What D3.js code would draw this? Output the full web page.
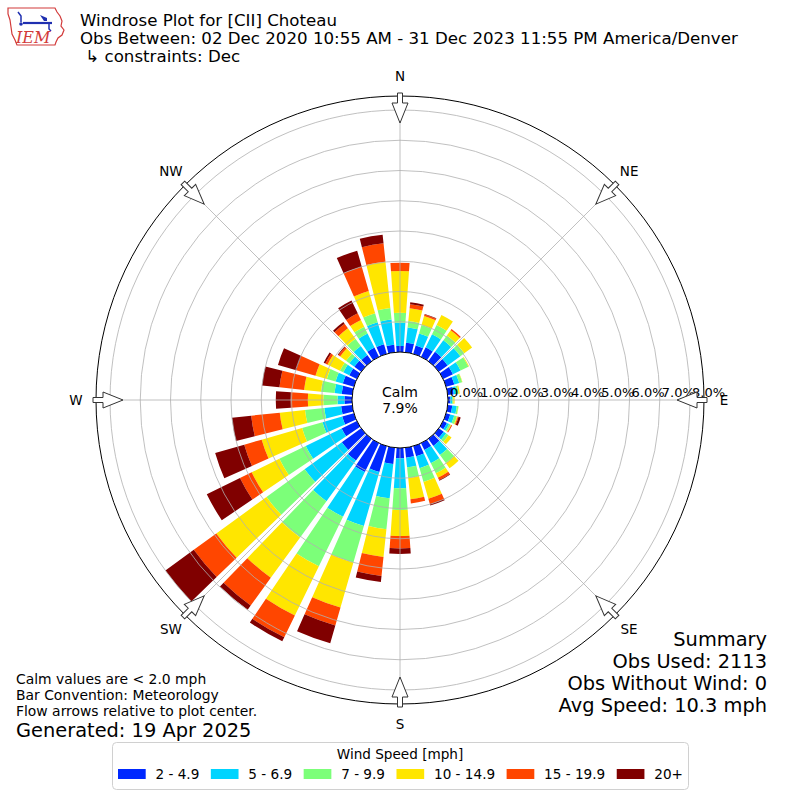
<!DOCTYPE html>
<html>
<head>
<meta charset="utf-8">
<script src="https://cdn.jsdelivr.net/npm/d3@7"></script>
<style>
  body { margin: 0; background: #fff; }
  svg { font-family: "DejaVu Sans", sans-serif; }
</style>
</head>
<body>
<script>
// wind directions (deg, meteorological, from north clockwise)
const directions = [0, 10, 20, 30, 40, 50, 60, 70, 80, 90, 100, 110, 120, 130, 140, 150, 160, 170,
                    180, 190, 200, 210, 220, 230, 240, 250, 260, 270, 280, 290, 300, 310, 320, 330, 340, 350];

const speedBins = ["2 - 4.9", "5 - 6.9", "7 - 9.9", "10 - 14.9", "15 - 19.9", "20+"];
const binColors = ["#0028ff", "#00d4ff", "#7cff79", "#ffe600", "#ff4600", "#800000"];

// percent of observations per direction, one array per speed bin
const speed2to5 = [0.20,0.32,0.29,0.35,0.38,0.36,0.36,0.28,0.20,0.08,0.15,0.14,0.14,0.20,0.29,0.25,0.35,0.33,
                   0.34,0.54,0.89,1.06,0.89,0.79,0.56,0.40,0.37,0.25,0.35,0.38,0.28,0.28,0.25,0.34,0.33,0.25];
const speed5to7 = [0.77,0.50,0.41,0.48,0.47,0.52,0.28,0.17,0.10,0.06,0.15,0.14,0.08,0.10,0.37,0.49,0.41,0.32,
                   0.99,1.14,1.86,1.65,1.66,1.52,1.32,0.68,0.56,0.23,0.24,0.25,0.22,0.20,0.37,0.52,0.76,0.84];
const speed7to10 = [0.33,0.22,0.29,0.34,0.20,0.16,0.29,0.10,0.06,0.04,0.05,0.09,0.06,0.10,0.33,0.37,0.47,0.35,
                    0.72,1.03,1.25,1.82,1.48,1.56,0.97,0.70,0.64,0.47,0.45,0.30,0.12,0.14,0.30,0.25,0.31,0.38];
const speed10to15 = [1.38,0.42,0.31,0.37,0.21,0.32,0.02,0.01,0.04,0.04,0.01,0.03,0.02,0.12,0.21,0.16,0.58,0.71,
                     0.86,0.92,1.55,1.81,1.65,2.05,1.02,1.39,0.84,0.51,0.56,0.39,0.46,0.24,0.42,0.25,0.76,1.54];
const speed15to20 = [0.27,0.14,0.05,0.00,0.05,0.00,0.00,0.00,0.00,0.00,0.00,0.03,0.03,0.00,0.00,0.09,0.19,0.14,
                     0.41,0.63,0.62,0.80,1.13,0.92,0.43,0.60,0.95,0.57,0.82,0.66,0.08,0.07,0.19,0.24,0.84,0.61];
const speed20plus = [0.00,0.06,0.02,0.00,0.00,0.00,0.00,0.00,0.00,0.00,0.00,0.07,0.00,0.00,0.00,0.02,0.04,0.00,
                     0.18,0.20,0.61,0.15,0.17,1.16,1.22,1.00,0.64,0.49,0.58,0.63,0.06,0.03,0.07,0.47,0.55,0.29];

const rTicks = [0, 1, 2, 3, 4, 5, 6, 7, 8];
const compass = [["N", 0], ["NE", 45], ["E", 90], ["SE", 135], ["S", 180], ["SW", 225], ["W", 270], ["NW", 315]];

const calmPct = "7.9%";
const titleLines = ["Windrose Plot for [CII] Choteau",
                    "Obs Between: 02 Dec 2020 10:55 AM - 31 Dec 2023 11:55 PM America/Denver",
                    " \u21b3 constraints: Dec"];
const summaryLines = ["Summary", "Obs Used: 2113", "Obs Without Wind: 0", "Avg Speed: 10.3 mph"];
const noteLines = ["Calm values are < 2.0 mph", "Bar Convention: Meteorology", "Flow arrows relative to plot center."];

const series = [speed2to5, speed5to7, speed7to10, speed10to15, speed15to20, speed20plus];

const W = 800, H = 800, cx = 400, cy = 400;
const calmR = 48, outerR = 304;

const svg = d3.select("body").append("svg")
    .attr("width", W).attr("height", H).attr("viewBox", "0 0 800 800");

const r = d3.scaleLinear().domain([0, 8]).range([calmR, 290]);
const toRad = d => d * Math.PI / 180;
const halfWidth = 4;

const plot = svg.append("g").attr("transform", `translate(${cx},${cy})`);

// stacked bars
const stacks = directions.map((d, i) => {
    let acc = 0;
    return series.map((s, j) => {
        const lo = acc; acc += s[i];
        return {dir: d, bin: j, lo: lo, hi: acc, v: s[i]};
    });
}).flat().filter(s => s.v > 0);

const arc = d3.arc()
    .innerRadius(s => r(s.lo))
    .outerRadius(s => r(s.hi))
    .startAngle(s => toRad(s.dir - halfWidth))
    .endAngle(s => toRad(s.dir + halfWidth));

plot.selectAll("path.bar").data(stacks).join("path")
    .attr("class", "bar")
    .attr("d", arc)
    .attr("fill", s => binColors[s.bin]);

// grid on top of bars
plot.selectAll("circle.ring").data(rTicks.slice(1)).join("circle")
    .attr("class", "ring")
    .attr("r", d => r(d))
    .attr("fill", "none").attr("stroke", "#b0b0b0").attr("stroke-width", 0.8);

plot.selectAll("line.spoke").data(compass).join("line")
    .attr("class", "spoke")
    .attr("x1", d => calmR * Math.sin(toRad(d[1]))).attr("y1", d => -calmR * Math.cos(toRad(d[1])))
    .attr("x2", d => outerR * Math.sin(toRad(d[1]))).attr("y2", d => -outerR * Math.cos(toRad(d[1])))
    .attr("stroke", "#b0b0b0").attr("stroke-width", 0.8);

plot.append("circle").attr("r", outerR)
    .attr("fill", "none").attr("stroke", "#000").attr("stroke-width", 1);

// calm circle
plot.append("circle").attr("r", calmR)
    .attr("fill", "#fff").attr("stroke", "#000").attr("stroke-width", 1);
plot.append("text").attr("y", -3).attr("text-anchor", "middle")
    .attr("font-size", 14).text("Calm");
plot.append("text").attr("y", 13).attr("text-anchor", "middle")
    .attr("font-size", 14).text(calmPct);

// radial tick labels
plot.selectAll("text.rlab").data(rTicks).join("text")
    .attr("class", "rlab")
    .attr("x", d => r(d) + 2).attr("y", -3)
    .attr("font-size", 13)
    .text(d => d3.format(".1f")(d) + "%");

// compass labels
plot.selectAll("text.comp").data(compass).join("text")
    .attr("class", "comp")
    .attr("x", d => 324 * Math.sin(toRad(d[1])))
    .attr("y", d => -324 * Math.cos(toRad(d[1])) + 5)
    .attr("text-anchor", "middle").attr("font-size", 13.5)
    .text(d => d[0]);

// inward flow arrows
const arrowPath = "M-2.5,-307 L2.5,-307 L2.5,-297 L8,-297 L0,-277 L-8,-297 L-2.5,-297 Z";
plot.selectAll("path.arrow").data(compass).join("path")
    .attr("class", "arrow")
    .attr("d", arrowPath)
    .attr("transform", d => `rotate(${d[1]})`)
    .attr("fill", "#fff").attr("stroke", "#333").attr("stroke-width", 1);

// titles
svg.selectAll("text.title").data(titleLines).join("text")
    .attr("class", "title")
    .attr("x", 80).attr("y", (d, i) => 26 + i * 18)
    .attr("font-size", 16.65)
    .attr("xml:space", "preserve")
    .style("white-space", "pre")
    .text(d => d);

// IEM logo
const logo = svg.append("g");
logo.append("path")
    .attr("d", "M8,8 L55,8 L57,12 L60,16 L62,21 L61,26 L64,30 L62,35 L58,38 L56,42 L55,45 L17,45 L15,40 L12,34 L11,27 L10,20 L8,14 Z")
    .attr("fill", "#fff").attr("stroke", "#d23a3a").attr("stroke-width", 1.2);
logo.append("path").attr("d", "M23,23 L52,23").attr("stroke", "#1f2fb0").attr("stroke-width", 2.2);
logo.append("path").attr("d", "M18,12 L21,16 L21,22").attr("stroke", "#1f2fb0").attr("stroke-width", 1.5).attr("fill", "none");
logo.append("path").attr("d", "M40,15 L47,18 L47,21 L44,21 Z").attr("fill", "#1f2fb0");
logo.append("path").attr("d", "M49,23 L49,29 L51,31").attr("stroke", "#1f2fb0").attr("stroke-width", 1.5).attr("fill", "none");
logo.append("circle").attr("cx", 21).attr("cy", 24).attr("r", 1.8).attr("fill", "#1f2fb0");
logo.append("text").attr("x", 16).attr("y", 43)
    .attr("font-family", "'DejaVu Serif', serif").attr("font-style", "italic")
    .attr("font-size", 16).attr("fill", "#d23a3a").text("IEM");

// summary
svg.selectAll("text.summary").data(summaryLines).join("text")
    .attr("class", "summary")
    .attr("x", 767).attr("y", (d, i) => 646 + i * 22)
    .attr("text-anchor", "end").attr("font-size", 19.4)
    .text(d => d);

// notes
svg.selectAll("text.note").data(noteLines).join("text")
    .attr("class", "note")
    .attr("x", 16).attr("y", (d, i) => 684 + i * 16)
    .attr("font-size", 13.9)
    .text(d => d);
svg.append("text").attr("x", 16).attr("y", 737)
    .attr("font-size", 19.4).text("Generated: 19 Apr 2025");

// legend, laid out left to right like matplotlib (handle, pad, label, column spacing)
const legend = svg.append("g");
legend.append("rect").attr("x", 112.5).attr("y", 742.5).attr("width", 576).attr("height", 47)
    .attr("rx", 4).attr("fill", "#fff").attr("stroke", "#d0d0d0");
legend.append("text").attr("x", 400).attr("y", 759).attr("text-anchor", "middle")
    .attr("font-size", 13.6).text("Wind Speed [mph]");
const handleW = 27.7, handlePad = 9.8, colSpace = 11.5;
let lx = 118;
speedBins.forEach((label, i) => {
    const g = legend.append("g").attr("transform", `translate(${lx},0)`);
    g.append("rect").attr("y", 769).attr("width", handleW).attr("height", 10)
        .attr("fill", binColors[i]);
    const t = g.append("text").attr("x", handleW + handlePad).attr("y", 779)
        .attr("font-size", 13.6).text(label);
    lx += handleW + handlePad + t.node().getComputedTextLength() + colSpace;
});
</script>
</body>
</html>
